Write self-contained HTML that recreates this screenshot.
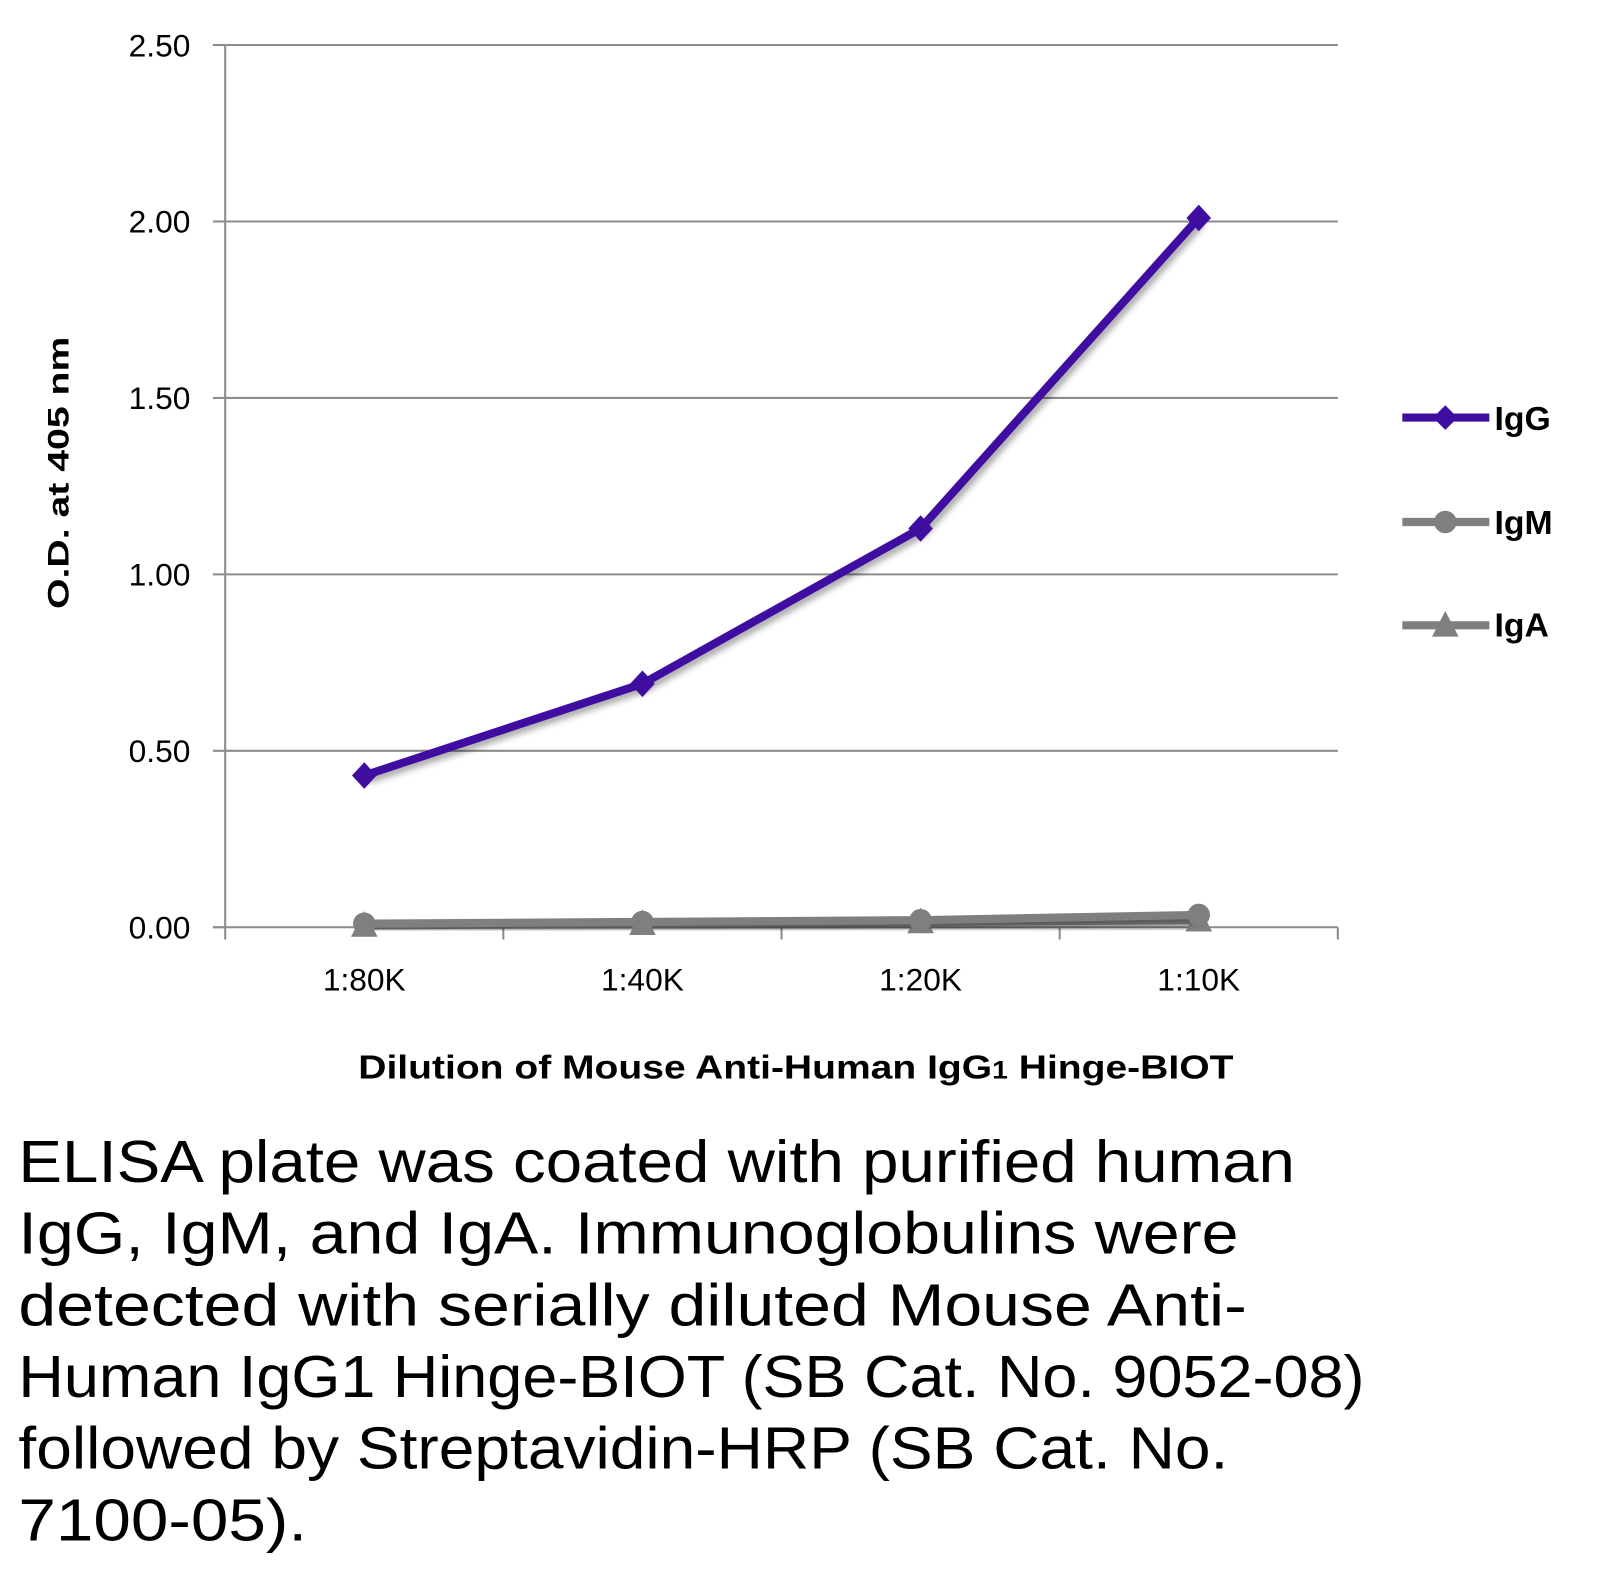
<!DOCTYPE html>
<html><head><meta charset="utf-8"><style>
html,body{margin:0;padding:0;background:#fff}
svg{display:block;font-family:"Liberation Sans",sans-serif}
</style></head><body>
<svg id="chart" width="1605" height="1570" viewBox="0 0 1568 1534" preserveAspectRatio="none" xmlns="http://www.w3.org/2000/svg">
<defs><filter id="sh" x="-10%" y="-10%" width="120%" height="120%"><feGaussianBlur stdDeviation="3"/></filter></defs>
<g id="grid"></g>
<g id="axes"></g>
<g id="series"></g>
<text transform="translate(67,462) rotate(-90)" text-anchor="middle" font-size="29" font-weight="bold" textLength="266" lengthAdjust="spacingAndGlyphs">O.D. at 405 nm</text>
<text x="350" y="1054" font-size="33" font-weight="bold" textLength="855" lengthAdjust="spacingAndGlyphs">Dilution of Mouse Anti-Human IgG<tspan font-size="24">1</tspan> Hinge-BIOT</text>
<g font-size="33" font-weight="bold">
<g><line x1="1370" y1="408" x2="1455" y2="408" stroke="#3f0ea0" stroke-width="8"/><path d="M1412 396 L1424 408 L1412 420 L1400 408Z" fill="#3f0ea0"/><text x="1460" y="420">IgG</text></g>
<g><line x1="1370" y1="510" x2="1455" y2="510" stroke="#7f7f7f" stroke-width="8"/><circle cx="1412" cy="510" r="11" fill="#7f7f7f"/><text x="1460" y="522">IgM</text></g>
<g><line x1="1370" y1="611" x2="1455" y2="611" stroke="#7f7f7f" stroke-width="8"/><path d="M1412 597 L1425 622 L1399 622Z" fill="#7f7f7f"/><text x="1460" y="622">IgA</text></g>
</g>
<g font-size="58">
<text x="18" y="1155" textLength="1247" lengthAdjust="spacingAndGlyphs">ELISA plate was coated with purified human</text>
<text x="18" y="1225" textLength="1192" lengthAdjust="spacingAndGlyphs">IgG, IgM, and IgA.  Immunoglobulins were</text>
<text x="18" y="1295" textLength="1200" lengthAdjust="spacingAndGlyphs">detected with serially diluted Mouse Anti-</text>
<text x="18" y="1365" textLength="1315" lengthAdjust="spacingAndGlyphs">Human IgG1 Hinge-BIOT (SB Cat. No. 9052-08)</text>
<text x="18" y="1435" textLength="1182" lengthAdjust="spacingAndGlyphs">followed by Streptavidin-HRP (SB Cat. No.</text>
<text x="18" y="1505" textLength="282" lengthAdjust="spacingAndGlyphs">7100-05).</text>
</g>
</svg>
<script>
const categories = ["1:80K","1:40K","1:20K","1:10K"];
const iggValues = [0.43,0.69,1.13,2.01];
const igmValues = [0.01,0.015,0.02,0.035];
const igaValues = [0.005,0.01,0.015,0.02];
const yTicks = [0,0.5,1,1.5,2,2.5];
const yTickLabels = ["0.00","0.50","1.00","1.50","2.00","2.50"];
const NS="http://www.w3.org/2000/svg";
const X0=220,X1=1307,Y0=906,Y1=44;
const band=(X1-X0)/categories.length;
function xs(i){return X0+band*(i+0.5);}
function ys(v){return Y0-(v/2.5)*(Y0-Y1);}
function mk(tag,attrs,parent){const e=document.createElementNS(NS,tag);for(const k in attrs)e.setAttribute(k,attrs[k]);parent.appendChild(e);return e;}
const grid=document.getElementById('grid'),axes=document.getElementById('axes'),ser=document.getElementById('series');
yTicks.forEach((t,i)=>{
  const y=ys(t);
  if(t>0){const g=mk('line',{x1:X0,x2:X1,y1:y,y2:y,stroke:'#8c8c8c','stroke-width':2},grid);
  
  }
  const tk=mk('line',{x1:X0-12,x2:X0,y1:y,y2:y,stroke:'#8c8c8c','stroke-width':2},axes);
  
  
  const tx=mk('text',{x:186,y:y+11,'text-anchor':'end','font-size':31},axes);
  tx.textContent=yTickLabels[i];
  
  
});
const ya=mk('line',{x1:X0,x2:X0,y1:Y1,y2:Y0,stroke:'#8c8c8c','stroke-width':2},axes);


const xa=mk('line',{x1:X0-12,x2:X1,y1:Y0,y2:Y0,stroke:'#8c8c8c','stroke-width':2},axes);


for(let i=0;i<=categories.length;i++){
  const x=X0+band*i;
  const t=mk('line',{x1:x,x2:x,y1:Y0,y2:Y0+12,stroke:'#8c8c8c','stroke-width':2},axes);
  
  
}
categories.forEach((c,i)=>{
  const t=mk('text',{x:xs(i),y:968,'text-anchor':'middle','font-size':31},axes);
  t.textContent=c;
  
  
});
function drawSeries(vals,color,marker,name){
  const pts=vals.map((v,i)=>xs(i)+','+ys(v)).join(' ');
  const g=mk('g',{},ser);
  
  
  mk('polyline',{points:pts,fill:'none',stroke:'#000','stroke-opacity':0.35,'stroke-width':8,transform:'translate(3,4)',filter:'url(#sh)'},g);
  const l=mk('polyline',{points:pts,fill:'none',stroke:color,'stroke-width':8,'stroke-linejoin':'round'},g);
  
  
  vals.forEach((v,i)=>{
    const x=xs(i),y=ys(v);let m;
    if(marker==='d')m=mk('path',{d:`M${x} ${y-13}L${x+12} ${y}L${x} ${y+13}L${x-12} ${y}Z`,fill:color},g);
    else if(marker==='c')m=mk('circle',{cx:x,cy:y,r:11,fill:color},g);
    else m=mk('path',{d:`M${x} ${y-14}L${x+13} ${y+11}L${x-13} ${y+11}Z`,fill:color},g);
    
    
  });
}
drawSeries(igaValues,'#7f7f7f','t','iga');
drawSeries(igmValues,'#7f7f7f','c','igm');
drawSeries(iggValues,'#3f0ea0','d','igg');
</script>
</body></html>
